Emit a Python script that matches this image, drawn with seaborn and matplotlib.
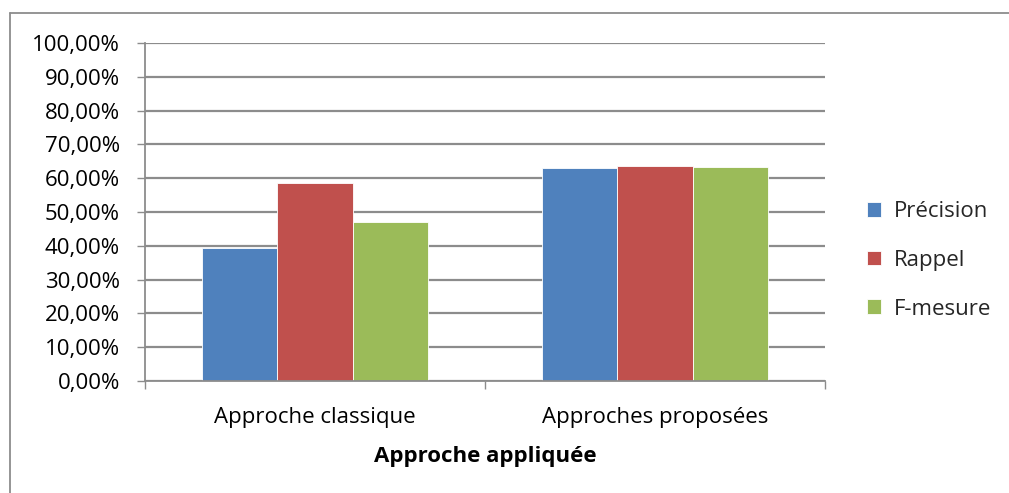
import pandas as pd
import seaborn as sns
import matplotlib.pyplot as plt
from matplotlib.lines import Line2D
from matplotlib.ticker import FuncFormatter, FixedLocator

approches = ["Approche classique", "Approches proposées"]
mesures = ["Précision", "Rappel", "F-mesure"]
precision = [39.3, 63.0]
rappel = [58.6, 63.5]
f_mesure = [47.0, 63.2]

df = pd.DataFrame({
    "approche": approches * 3,
    "mesure": [m for m in mesures for _ in approches],
    "valeur": precision + rappel + f_mesure,
})

sns.set_theme(style="white")
plt.rcParams['font.family'] = ['Open Sans', 'DejaVu Sans']
fs = 16

fig = plt.figure(figsize=(10.09, 4.93), dpi=100)
ax = fig.add_axes([0.1437, 0.2272, 0.6739, 0.6856])

palette = ["#4F81BD", "#C0504D", "#9BBB59"]
sns.barplot(data=df, x="approche", y="valeur", hue="mesure", palette=palette,
            width=0.667, saturation=1, gap=0, ax=ax, legend=True)
for p in ax.patches:
    p.set_edgecolor("white")
    p.set_linewidth(0.6)

ax.set_ylim(0, 100)
ax.set_xlim(-0.5, 1.5)
ax.set_yticks(range(0, 101, 10))
ax.yaxis.set_major_formatter(FuncFormatter(lambda v, _: f"{v:.2f}".replace(".", ",") + "%"))
ax.grid(axis="y", color="#8c8c8c", linewidth=1.6)
ax.set_axisbelow(True)
ax.tick_params(axis="y", which="major", length=6, width=1, color="#8c8c8c",
               labelsize=fs, pad=12, left=True, direction="out", labelcolor="black")
ax.tick_params(axis="x", which="major", length=0, labelsize=fs, pad=19, labelcolor="black")
ax.xaxis.set_minor_locator(FixedLocator([-0.5, 0.5, 1.5]))
ax.tick_params(axis="x", which="minor", length=6, width=1, color="#8c8c8c", bottom=True)
for s in ["top", "right"]:
    ax.spines[s].set_visible(False)
for s in ["left", "bottom"]:
    ax.spines[s].set_color("#8c8c8c")
    ax.spines[s].set_linewidth(1.3)

ax.set_ylabel("")
ax.set_xlabel("Approche appliquée", fontsize=fs, fontweight="bold", labelpad=13,
              color="black")

handles, labels = ax.get_legend_handles_labels()
ax.legend_.remove()
fig.legend(handles, labels, loc="center left", bbox_to_anchor=(0.839, 0.472),
           frameon=False, fontsize=fs, handlelength=0.65, handleheight=0.65,
           handletextpad=0.6, labelspacing=1.25)

# chart frame (left and top edges visible, rest cropped)
fig.add_artist(Line2D([10 / 1009, 10 / 1009], [0, 1 - 13 / 493],
                      transform=fig.transFigure, color="#8c8c8c", linewidth=1.3))
fig.add_artist(Line2D([10 / 1009, 1], [1 - 13 / 493, 1 - 13 / 493],
                      transform=fig.transFigure, color="#8c8c8c", linewidth=1.3))

fig.savefig("out.png", dpi=100)
